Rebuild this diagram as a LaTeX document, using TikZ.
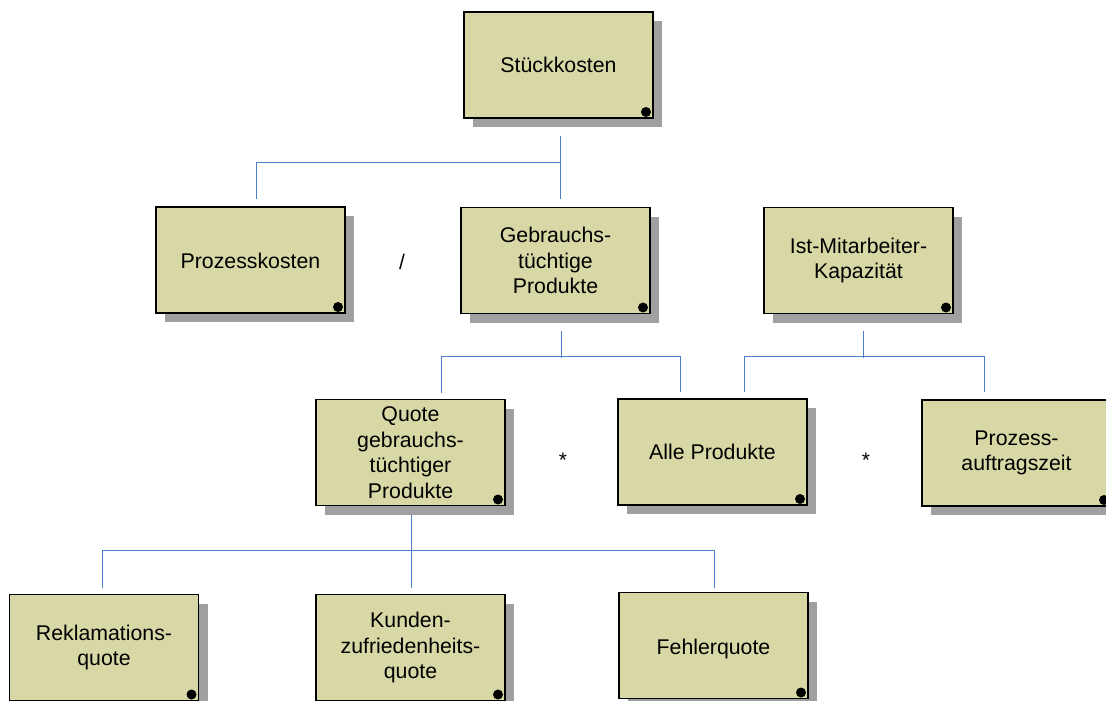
\documentclass[tikz,border=0pt]{standalone}
\usepackage{fontspec}
\setmainfont{Liberation Sans}
\usetikzlibrary{shadows,calc}
\definecolor{boxfill}{RGB}{216,216,166}
\definecolor{shadowgray}{RGB}{160,160,160}
\definecolor{connblue}{RGB}{74,126,200}
\tikzset{
  kpibox/.style={draw=black, line width=1.3pt, fill=boxfill,
    minimum width=189pt, minimum height=106pt, inner sep=2pt,
    align=center, font=\fontsize{21.3}{25.5}\selectfont,
    general shadow={fill=shadowgray, shadow xshift=9pt, shadow yshift=-9pt},
    path picture={\fill[black] ($(path picture bounding box.south east)+(-7pt,6pt)$) circle (5pt);}},
  conn/.style={draw=connblue, line width=0.9pt},
  oplabel/.style={font=\fontsize{21}{25.5}\selectfont, inner sep=0pt}
}
\begin{document}
\begin{tikzpicture}[x=1pt,y=-1pt]
\useasboundingbox[fill=white] (0,0) rectangle (1106,701);
% boxes
\node[kpibox] (st) at (558.5,65) {Stückkosten};
\node[kpibox, text depth=0pt] (pk) at (250.5,260) {\raisebox{-2pt}{Prozesskosten}};
\node[kpibox] (gp) at (555.5,260.5) {Gebrauchs-\\tüchtige\\Produkte};
\node[kpibox] (ik) at (858.5,260.5) {Ist-Mitarbeiter-\\Kapazität};
\node[kpibox] (qg) at (410.5,452.5) {Quote\\gebrauchs-\\tüchtiger\\Produkte};
\node[kpibox] (ap) at (712.5,452) {Alle Produkte};
\node[kpibox] (pa) at (1016.5,453) {Prozess-\\auftragszeit};
\node[kpibox] (rq) at (104,647.5) {Reklamations-\\quote};
\node[kpibox] (kz) at (410.5,647.5) {Kunden-\\zufriedenheits-\\quote};
\node[kpibox, text depth=0pt] (fq) at (713.5,645.5) {\raisebox{-2pt}{Fehlerquote}};
% operators
\node[oplabel] (op1) at (402,262) {/};
\node[oplabel] (op2) at (563,460) {*};
\node[oplabel] (op3) at (866,460) {*};
% connectors
\draw[conn] ($(st.south)+(1.5,17)$) -- ($(gp.north)+(4.5,-7.5)$);
\draw[conn] ($(st.south)+(1.5,44)$) -| ($(pk.north)+(5.5,-7)$);
\draw[conn] ($(gp.south)+(5.5,17)$) -- ++(0,27);
\draw[conn] ($(qg.north)+(30.5,-6)$) -- ++(0,-36) -| ($(ap.north)+(-32.5,-6)$);
\draw[conn] ($(ik.south)+(4.5,16.5)$) -- ++(0,27);
\draw[conn] ($(ap.north)+(31.5,-6)$) -- ++(0,-36) -| ($(pa.north)+(-32.5,-7)$);
\draw[conn] ($(qg.south)+(0.5,9)$) -- ($(kz.north)+(0.5,-6)$);
\draw[conn] ($(rq.north)+(-2,-6)$) -- ++(0,-37) -| ($(fq.north)+(0.5,-4)$);
\end{tikzpicture}
\end{document}
